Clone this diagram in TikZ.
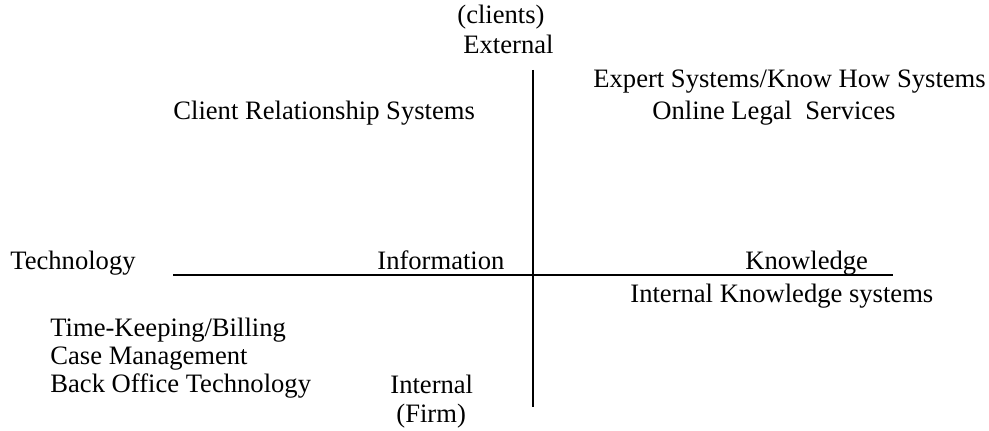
\documentclass[tikz,border=0pt]{standalone}
\usepackage{fontspec}
\setmainfont{Liberation Serif}
\usepackage{tikz}

\begin{document}
\begin{tikzpicture}[x=0.5pt, y=-0.5pt,
	lbl/.style={font=\fontsize{13.3}{15}\selectfont, inner sep=0, anchor=base west},
	axis/.style={line width=1pt}
]
\useasboundingbox (0,0) rectangle (989,431);
%axes
\coordinate (top) at (533,70);
\coordinate (bot) at (533,407);
\coordinate (left) at (173,275);
\coordinate (right) at (893,275);
\draw[axis] (top) -- (bot);
\draw[axis] (left) -- (right);

\node[lbl] (clients) at (457,24) {(clients)};
\node[lbl] (ext) at (463,54) {External};
\node[lbl] (int) at (390,394) {Internal};
\node[lbl] (firm) at (396,423) {(Firm)};

\node[lbl] (tech) at (10,270) {Technology};
\node[lbl] (info) at (377,270) {Information};
\node[lbl] (know) at (745,270) {Knowledge};

\node[lbl] (q1) at (173,120) {Client Relationship Systems};
\node[lbl] (q2a) at (593,88) {Expert Systems/Know How Systems};
\node[lbl] (q2b) at (652,120) {Online Legal\ \ Services};
\node[lbl] (q4) at (630,303) {Internal Knowledge systems};
\node[lbl] (q3a) at (50,337) {Time-Keeping/Billing};
\node[lbl] (q3b) at (50,365) {Case Management};
\node[lbl] (q3c) at (50,393) {Back Office Technology};
\end{tikzpicture}
\end{document}
